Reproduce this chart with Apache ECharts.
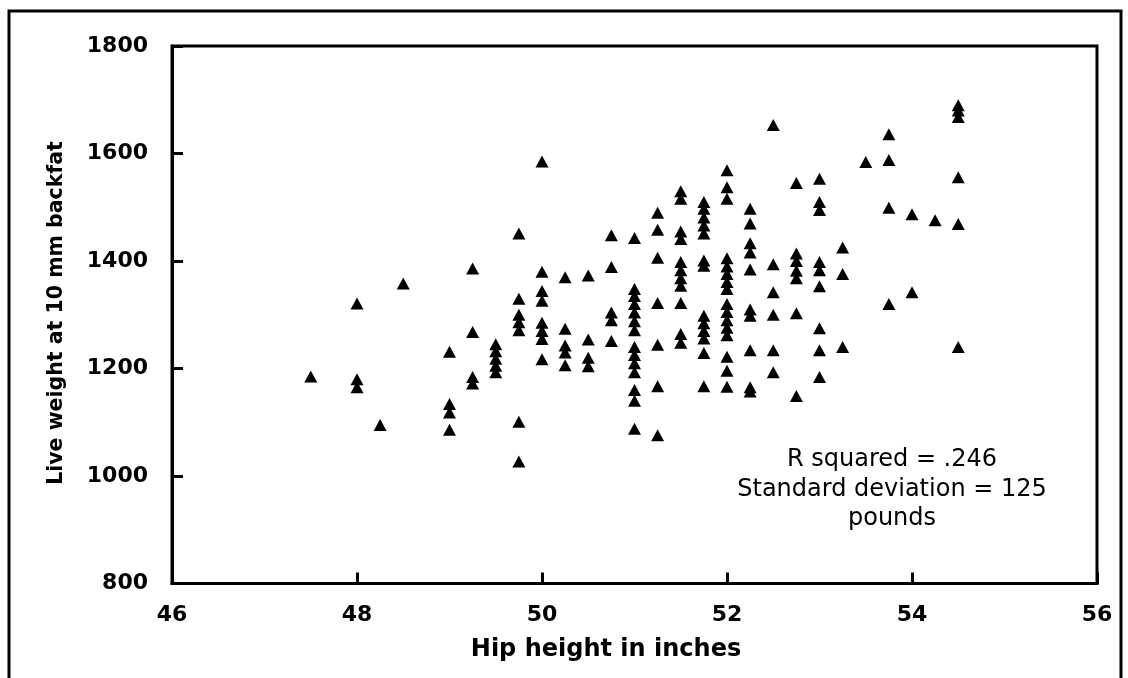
<!DOCTYPE html>
<html>
<head>
<meta charset="utf-8">
<script src="https://cdn.jsdelivr.net/npm/echarts@6/dist/echarts.min.js"></script>
<style>
  html, body { margin: 0; padding: 0; background: #fff; }
  #chart { width: 1128px; height: 678px; }
</style>
</head>
<body>
<div id="chart"></div>
<script>
// Hip height columns (inches) and the live weights read at each one (pounds)
const hipHeights = [47.5, 48, 48.25, 48.5, 49, 49.25, 49.5, 49.75, 50, 50.25, 50.5, 50.75,
  51, 51.25, 51.5, 51.75, 52, 52.25, 52.5, 52.75, 53, 53.25, 53.5, 53.75, 54, 54.25, 54.5];
const weights_47_5 = [1185];
const weights_48 = [1321, 1180, 1165];
const weights_48_25 = [1095];
const weights_48_5 = [1358];
const weights_49 = [1231, 1134, 1118, 1086];
const weights_49_25 = [1386, 1268, 1184, 1172];
const weights_49_5 = [1245, 1232, 1218, 1205, 1193];
const weights_49_75 = [1451, 1330, 1300, 1286, 1271, 1101, 1027];
const weights_50 = [1585, 1380, 1344, 1326, 1285, 1270, 1255, 1217];
const weights_50_25 = [1370, 1274, 1243, 1230, 1206];
const weights_50_5 = [1373, 1254, 1220, 1204];
const weights_50_75 = [1448, 1389, 1304, 1290, 1251];
const weights_51 = [1443, 1348, 1335, 1320, 1304, 1288, 1271, 1240, 1225, 1210, 1193, 1160, 1140, 1088];
const weights_51_25 = [1490, 1458, 1406, 1322, 1244, 1167, 1076];
const weights_51_5 = [1530, 1516, 1455, 1441, 1398, 1383, 1368, 1354, 1322, 1264, 1248];
const weights_51_75 = [1510, 1497, 1481, 1466, 1451, 1401, 1391, 1298, 1284, 1270, 1256, 1229, 1167];
const weights_52 = [1569, 1537, 1516, 1405, 1390, 1376, 1361, 1348, 1320, 1305, 1290, 1276, 1262, 1222, 1196, 1166];
const weights_52_25 = [1497, 1470, 1433, 1416, 1384, 1310, 1298, 1234, 1165, 1157];
const weights_52_5 = [1653, 1394, 1342, 1300, 1234, 1193];
const weights_52_75 = [1545, 1414, 1400, 1382, 1368, 1303, 1149];
const weights_53 = [1553, 1510, 1495, 1398, 1383, 1353, 1275, 1234, 1184];
const weights_53_25 = [1425, 1376, 1240];
const weights_53_5 = [1584];
const weights_53_75 = [1636, 1588, 1499, 1320];
const weights_54 = [1487, 1342];
const weights_54_25 = [1476];
const weights_54_5 = [1690, 1680, 1668, 1556, 1469, 1240];

const weightColumns = [weights_47_5, weights_48, weights_48_25, weights_48_5, weights_49,
  weights_49_25, weights_49_5, weights_49_75, weights_50, weights_50_25, weights_50_5,
  weights_50_75, weights_51, weights_51_25, weights_51_5, weights_51_75, weights_52,
  weights_52_25, weights_52_5, weights_52_75, weights_53, weights_53_25, weights_53_5,
  weights_53_75, weights_54, weights_54_25, weights_54_5];

const annotationLines = ['R squared = .246', 'Standard deviation = 125', 'pounds'];

const points = [];
hipHeights.forEach((h, i) => {
  weightColumns[i].forEach(w => points.push([h, w]));
});

const chart = echarts.init(document.getElementById('chart'));

const tickFont = {
  fontFamily: 'DejaVu Sans',
  fontWeight: 'bold',
  fontSize: 22,
  color: '#000',
  formatter: v => String(v)
};

chart.setOption({
  backgroundColor: '#fff',
  animation: false,
  grid: {
    left: 172,
    top: 46,
    right: 31,
    bottom: 94.5,
    show: true,
    borderColor: '#000',
    borderWidth: 3
  },
  xAxis: {
    type: 'value',
    min: 46,
    max: 56,
    interval: 2,
    axisLine: { show: true, lineStyle: { color: '#000', width: 3 } },
    axisTick: { show: true, inside: true, length: 11, lineStyle: { color: '#000', width: 3 } },
    axisLabel: Object.assign({ margin: 21 }, tickFont),
    splitLine: { show: false }
  },
  yAxis: {
    type: 'value',
    min: 800,
    max: 1800,
    interval: 200,
    axisLine: { show: true, lineStyle: { color: '#000', width: 3 } },
    axisTick: { show: true, inside: true, length: 11, lineStyle: { color: '#000', width: 3 } },
    axisLabel: Object.assign({ margin: 24 }, tickFont),
    splitLine: { show: false }
  },
  series: [{
    type: 'scatter',
    data: points,
    symbol: 'triangle',
    symbolSize: [13, 12],
    itemStyle: { color: '#000', opacity: 1 }
  }],
  graphic: [
    {
      type: 'rect',
      silent: true,
      shape: { x: 9, y: 11, width: 1112, height: 720 },
      style: { fill: null, stroke: '#000', lineWidth: 3 }
    },
    {
      type: 'text',
      x: 606,
      y: 650,
      style: {
        text: 'Hip height in inches',
        font: 'bold 24px "DejaVu Sans"',
        fill: '#000',
        align: 'center',
        verticalAlign: 'middle'
      }
    },
    {
      type: 'text',
      x: 57,
      y: 313,
      rotation: Math.PI / 2,
      style: {
        text: 'Live weight at 10 mm backfat',
        font: 'bold 20.5px "DejaVu Sans"',
        fill: '#000',
        align: 'center',
        verticalAlign: 'middle'
      }
    },
    ...annotationLines.map((line, i) => ({
      type: 'text',
      x: 892,
      y: 460 + i * 29.5,
      style: {
        text: line,
        font: '24px "DejaVu Sans"',
        fill: '#000',
        align: 'center',
        verticalAlign: 'middle'
      }
    }))
  ]
});
</script>
</body>
</html>
